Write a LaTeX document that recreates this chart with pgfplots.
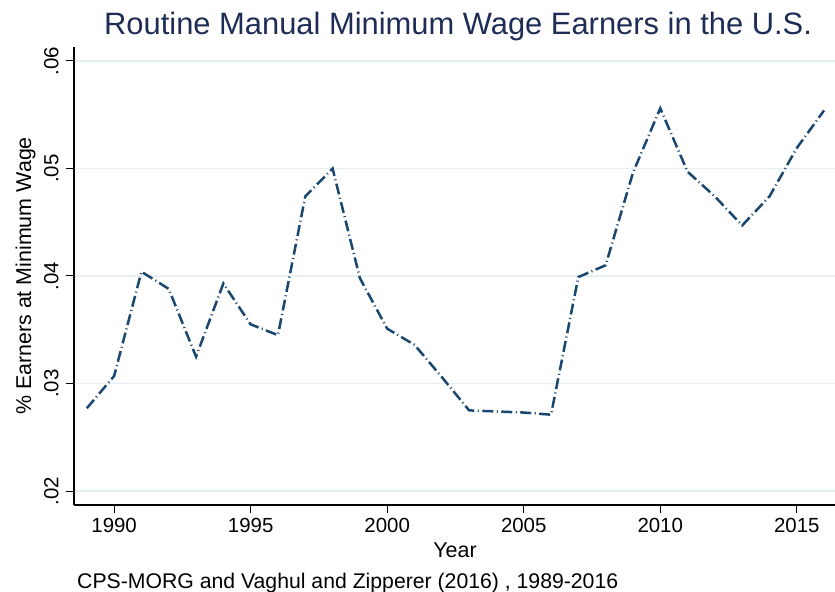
\documentclass[border=0pt]{standalone}
\usepackage{pgfplots}
\pgfplotsset{compat=1.18}
\usepackage{fontspec}
\setmainfont{Liberation Sans}
\definecolor{navyline}{HTML}{1A476F}
\definecolor{titlecol}{HTML}{1E2D55}
\definecolor{gridcol}{HTML}{E6EFF3}
\begin{document}
\begin{tikzpicture}[x=1bp,y=1bp]
\begin{axis}[
  at={(74bp,87bp)}, anchor=south west,
  scale only axis, width=761bp, height=458bp,
  xmin=1988.53, xmax=2016.4,
  ymin=0.0187, ymax=0.0613,
  axis x line*=bottom, axis y line*=left,
  axis line style={black, line width=1.2bp, -},
  xtick={1990,1995,2000,2005,2010,2015},
  xticklabels={1990,1995,2000,2005,2010,2015},
  ytick={0.02,0.03,0.04,0.05,0.06},
  yticklabels={.02,.03,.04,.05,.06},
  scaled y ticks=false, scaled x ticks=false,
  tick align=outside,
  major tick length=8bp,
  tick style={black, line width=1bp},
  ymajorgrids, grid style={gridcol, line width=1.5bp},
  /pgf/number format/assume math mode=true,
  tick label style={font=\fontsize{20.5}{22}\selectfont},
  xticklabel style={yshift=-2bp},
  yticklabel style={rotate=90, anchor=south, yshift=4bp},
  clip=false,
]
\addplot[navyline, line width=2.5bp, dash pattern=on 11bp off 3.5bp on 1bp off 3.5bp] coordinates {
(1989,0.0277) (1990,0.0307) (1991,0.0404) (1992,0.0388) (1993,0.0325)
(1994,0.0393) (1995,0.0355) (1996,0.0345) (1997,0.0474) (1998,0.0500)
(1999,0.0398) (2000,0.0351) (2001,0.0336) (2002,0.0306) (2003,0.0275)
(2004,0.0274) (2005,0.0273) (2006,0.0271) (2007,0.0399) (2008,0.0410)
(2009,0.0496) (2010,0.0556) (2011,0.0497) (2012,0.0474) (2013,0.0447)
(2014,0.0474) (2015,0.0519) (2016,0.0554)
};
\end{axis}
\node[anchor=base west, inner xsep=0pt, text=titlecol, font=\fontsize{31}{34}\selectfont] at (104bp,557bp) {Routine Manual Minimum Wage Earners in the U.S.};
\node[anchor=base, font=\fontsize{21.5}{24}\selectfont] at (455bp,35bp) {Year};
\node[anchor=base west, inner xsep=0pt, font=\fontsize{21.3}{23}\selectfont] at (77bp,4bp) {CPS-MORG and Vaghul and Zipperer (2016) , 1989-2016};
\node[rotate=90, anchor=base, font=\fontsize{21.5}{24}\selectfont] at (31bp,316bp) {\% Earners at Minimum Wage};
\pgfresetboundingbox
\path[use as bounding box] (0,0) rectangle (835bp,592bp);
\end{tikzpicture}
\end{document}
